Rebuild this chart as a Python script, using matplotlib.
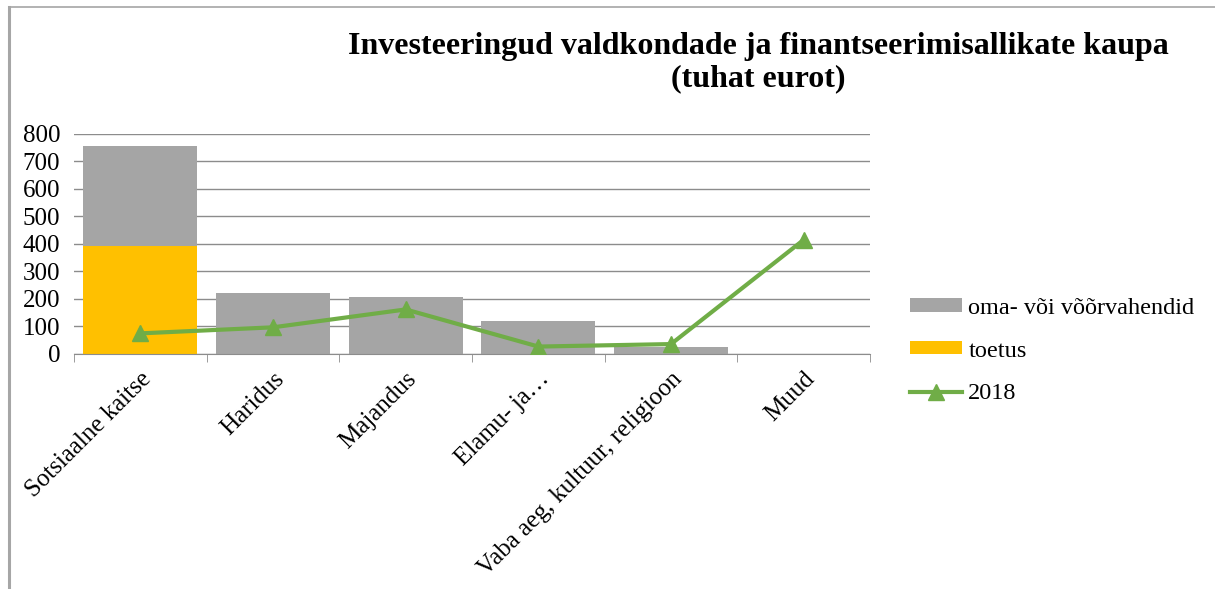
import numpy as np
import matplotlib.pyplot as plt
from matplotlib.lines import Line2D

plt.rcParams['font.family'] = ['Liberation Serif', 'DejaVu Serif']

categories = ['Sotsiaalne kaitse', 'Haridus', 'Majandus', 'Elamu- ja…',
              'Vaba aeg, kultuur, religioon', 'Muud']
toetus = [393, 0, 0, 0, 0, 0]
oma_voi_voor = [363, 220, 208, 120, 27, 0]
line_2018 = [75, 97, 162, 27, 36, 415]

gray = '#a5a5a5'
yellow = '#ffc000'
green = '#70ad47'

fig = plt.figure(figsize=(12.15, 5.89), dpi=100)
ax = fig.add_axes([0.061, 0.399, 0.655, 0.3735])

x = np.arange(len(categories))
b_toe = ax.bar(x, toetus, width=0.86, color=yellow, label='toetus', zorder=2)
b_oma = ax.bar(x, oma_voi_voor, width=0.86, bottom=toetus, color=gray,
               label='oma- või võõrvahendid', zorder=2)
l_18, = ax.plot(x, line_2018, color=green, lw=3, marker='^', markersize=11,
                label='2018', zorder=3)

ax.set_xlim(-0.5, len(categories) - 0.5)
ax.set_ylim(0, 800)
ax.set_yticks(range(0, 801, 100))
ax.yaxis.grid(True, color='#8c8c8c', lw=1, zorder=0)
ax.set_axisbelow(True)
ax.tick_params(axis='y', length=0, labelsize=18, pad=10)
ax.set_xticks(x)
ax.set_xticklabels(categories, rotation=45, ha='right', rotation_mode='anchor', fontsize=18)
ax.tick_params(axis='x', which='major', length=0, pad=10)
ax.set_xticks(np.arange(-0.5, len(categories)), minor=True)
ax.tick_params(axis='x', which='minor', length=6, color='#8c8c8c', direction='out')
for s in ['top', 'right']:
    ax.spines[s].set_visible(False)
ax.spines['left'].set_visible(False)
ax.spines['bottom'].set_color('#8c8c8c')

fig.text(0.624, 0.921, 'Investeeringud valdkondade ja finantseerimisallikate kaupa',
         ha='center', va='center', fontsize=23, fontweight='bold')
fig.text(0.624, 0.866, '(tuhat eurot)', ha='center', va='center',
         fontsize=23, fontweight='bold')

fig.legend([b_oma, b_toe, l_18], ['oma- või võõrvahendid', 'toetus', '2018'],
           loc='center left', bbox_to_anchor=(0.749, 0.404), frameon=False,
           fontsize=17.5, handlelength=2.15, handleheight=0.45, labelspacing=0.9,
           handletextpad=0.25, borderaxespad=0, borderpad=0)

# outer chart frame (only left and top edges visible)
fig.lines.append(Line2D([0.0078, 0.0078], [0, 0.988], transform=fig.transFigure,
                        color='#a6a6a6', lw=2.2))
fig.lines.append(Line2D([0.0078, 1.0], [0.988, 0.988], transform=fig.transFigure,
                        color='#a6a6a6', lw=1.2))

fig.savefig('out.png', dpi=100)
